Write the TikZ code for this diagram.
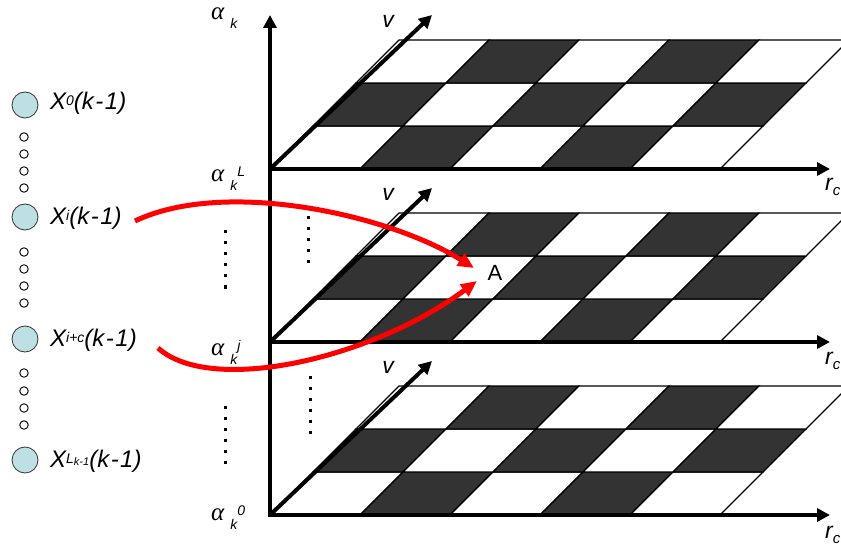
\documentclass[tikz,border=0pt]{standalone}
\usepackage{fontspec}
\setmainfont{Liberation Sans}
\newfontfamily\grkfont{Liberation Serif}
\usetikzlibrary{arrows.meta}
\definecolor{darkcell}{RGB}{51,51,51}
\definecolor{nodeblue}{RGB}{190,224,228}
\definecolor{arrred}{RGB}{255,0,0}
\newcommand\gridlayer[1]{%
  \foreach \ri in {0,1,2}{%
    \foreach \ci in {0,...,4}{%
      \pgfmathtruncatemacro\cellpar{mod(\ri+\ci,2)}%
      \ifnum\cellpar=1 \def\cellcol{darkcell}\else\def\cellcol{white}\fi
      \filldraw[gridline, fill=\cellcol] ({270+90*\ci+43*\ri},{#1-43*\ri}) -- ++(90,0) -- ++(43,-43) -- ++(-90,0) -- cycle;
    }}}
\newcommand\alab[1]{{\grkfont\itshape\fontsize{25}{25}\selectfont α}\hspace{6pt}\raisebox{-9pt}{\fontsize{14}{14}\selectfont\itshape k}\raisebox{5pt}{\fontsize{14}{14}\selectfont\itshape #1}}
\newcommand\xsup[1]{\raisebox{4pt}{\fontsize{14}{14}\selectfont #1}}
\newcommand\kmo{(k\hspace{1.5pt}-\hspace{1.5pt}1)}
\begin{document}
\begin{tikzpicture}[x=1pt,y=-1pt,
  gridline/.style={line width=1.1pt, line join=miter},
  axis/.style={line width=4pt, -{Triangle[length=13pt,width=13pt]}},
  redarrow/.style={draw=arrred, line width=5pt, -{Triangle[length=16pt,width=14pt]}},
  bigdot/.style={circle, draw=black!80, line width=0.8pt, fill=nodeblue, minimum size=26pt, inner sep=0pt},
  smalldot/.style={circle, draw=black, line width=0.9pt, fill=white, minimum size=8.5pt, inner sep=0pt},
  xlabel/.style={anchor=base west, inner sep=0pt, font=\fontsize{24}{27}\selectfont\itshape},
  axlabel/.style={inner sep=0pt, font=\fontsize{23}{26}\selectfont\itshape},
  alabel/.style={anchor=base west, inner sep=0pt},
  dots/.style={line width=3pt, dash pattern=on 3pt off 8pt},
]
\useasboundingbox (0,0) rectangle (841,556);
% grids
\gridlayer{169}
\gridlayer{342}
\gridlayer{515}
% origins
\coordinate (o1) at (270,169);
\coordinate (o2) at (270,342);
\coordinate (o3) at (270,515);
\coordinate (vtop) at (270,15);
\coordinate (v1) at (432,15);
\coordinate (v2) at (432,188);
\coordinate (v3) at (432,361);
\coordinate (r1) at (830,169);
\coordinate (r2) at (830,342);
\coordinate (r3) at (830,515);
% axes
\draw[axis] (o1) -- (v1);
\draw[axis] (o2) -- (v2);
\draw[axis] (o3) -- (v3);
\draw[axis] (o1) -- (r1);
\draw[axis] (o2) -- (r2);
\draw[axis] (o3) -- (r3);
\draw[axis] ([yshift=-2pt]o3) -- (vtop);
% axis labels
\node[axlabel] (lv1) at (388,21) {v};
\node[axlabel] (lv2) at (388,194) {v};
\node[axlabel] (lv3) at (388,367) {v};
\node[axlabel, anchor=base west] (lr1) at (825,191) {r\raisebox{-5pt}{\fontsize{15}{15}\selectfont c}};
\node[axlabel, anchor=base west] (lr2) at (825,364) {r\raisebox{-5pt}{\fontsize{15}{15}\selectfont c}};
\node[axlabel, anchor=base west] (lr3) at (825,538) {r\raisebox{-5pt}{\fontsize{15}{15}\selectfont c}};
% alpha labels
\node[alabel] (a1) at (211,20) {\alab{}};
\node[alabel] (a2) at (211,182) {\alab{L}};
\node[alabel] (a3) at (211,355) {\alab{j}};
\node[alabel] (a4) at (211,520) {\alab{0}};
% dotted lines
\draw[dots] (225,230.5) -- (225,290);
\draw[dots] (308,216.5) -- (308,264);
\draw[dots] (225,405.5) -- (225,464);
\draw[dots] (310,375.5) -- (310,434);
% left nodes
\node[bigdot] (n0) at (25,105) {};
\node[bigdot] (ni) at (25,217) {};
\node[bigdot] (nic) at (25,339) {};
\node[bigdot] (nl) at (25,460) {};
\foreach \yy/\nm in {137/a,154/b,171/c,188/d,252/e,269/f,286/g,303/h,373/i,391/j,408/k,425/l}
  \node[smalldot] (s\nm) at (24,\yy) {};
\node[xlabel] (x0) at (50,110) {X\xsup{0}\kmo};
\node[xlabel] (xi) at (50,225) {X\xsup{i}\kmo};
\node[xlabel] (xic) at (50,346) {X\xsup{i+c}\kmo};
\node[xlabel] (xl) at (50,467) {X\xsup{L\raisebox{-2pt}{\fontsize{11}{11}\selectfont k-1}}\kmo};
% A
\node[inner sep=0pt, font=\fontsize{22}{24}\selectfont] (A) at (495,273) {A};
% red arrows
\coordinate (s1) at (135,221);
\coordinate (t1) at (474,268);
\coordinate (s2) at (158,348);
\coordinate (t2) at (477,281);
\draw[redarrow] (s1) .. controls (225,178) and (390,215) .. (t1);
\draw[redarrow] (s2) .. controls (210,395) and (370,360) .. (t2);
\end{tikzpicture}
\end{document}
